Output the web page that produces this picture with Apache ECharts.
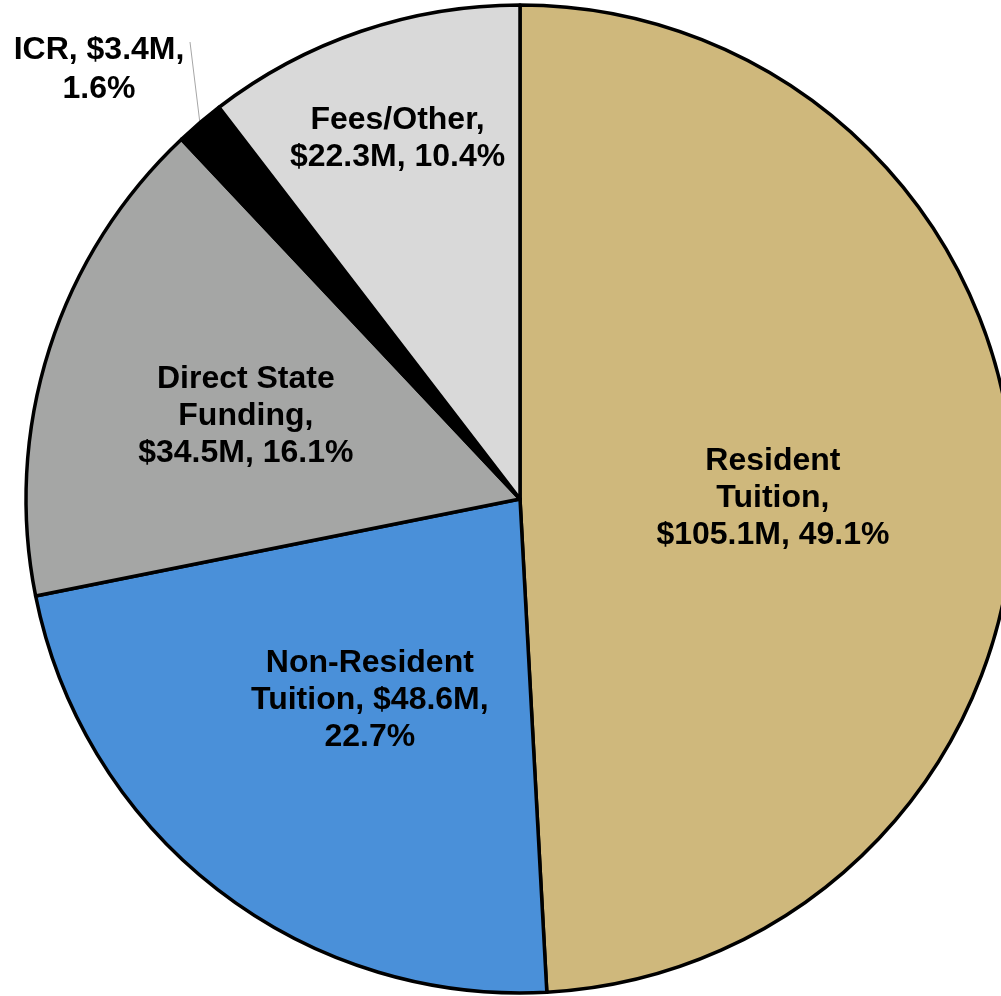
<!DOCTYPE html>
<html>
<head>
<meta charset="utf-8">
<script src="https://cdn.jsdelivr.net/npm/echarts@6/dist/echarts.min.js"></script>
<style>
html,body{margin:0;padding:0;background:#fff;}
#chart{width:1001px;height:996px;}
</style>
</head>
<body>
<div id="chart"></div>
<script>
const categories = ['Resident Tuition', 'Non-Resident Tuition', 'Direct State Funding', 'ICR', 'Fees/Other'];
const values = [105.1, 48.6, 34.5, 3.4, 22.3];
const percents = ['49.1%', '22.7%', '16.1%', '1.6%', '10.4%'];
const labelTexts = [
  'Resident\nTuition,\n$105.1M, 49.1%',
  'Non-Resident\nTuition, $48.6M,\n22.7%',
  'Direct State\nFunding,\n$34.5M, 16.1%',
  'ICR, $3.4M,\n1.6%',
  'Fees/Other,\n$22.3M, 10.4%'
];
const colors = ['#CFB87C', '#4A90D9', '#A5A6A5', '#000000', '#D9D9D9'];

const chart = echarts.init(document.getElementById('chart'), null, {renderer: 'canvas'});
const data = values.map((v, i) => ({
  name: categories[i],
  value: v,
  itemStyle: {color: colors[i]},
  label: i === 3 ? {position: 'outside', lineHeight: 39} : {position: 'inside'},
  labelLine: i === 3 ? {show: true, length: 10, length2: 10, lineStyle: {color: '#A6A6A6', width: 1}} : {show: false}
}));
const shifts = {0: [3, 6], 1: [3, 4], 2: [-36, -7], 4: [-42, -124]};
chart.setOption({
  animation: false,
  series: [{
    type: 'pie',
    center: [520, 499],
    radius: [0, 494],
    startAngle: 90,
    clockwise: true,
    avoidLabelOverlap: false,
    data: data,
    itemStyle: {borderColor: '#000', borderWidth: 3.5},
    emphasis: {disabled: true},
    label: {
      show: true,
      formatter: p => labelTexts[p.dataIndex],
      fontFamily: 'Liberation Sans, Arial, sans-serif',
      fontWeight: 'bold',
      fontSize: 32,
      lineHeight: 37,
      color: '#000',
      align: 'center'
    },
    labelLayout: function (params) {
      const i = params.dataIndex;
      if (i === 3) {
        const p0 = params.labelLinePoints ? params.labelLinePoints[0] : null;
        const res = {x: 99, y: 70, align: 'center', verticalAlign: 'middle'};
        if (p0) res.labelLinePoints = [p0, [190, 42]];
        return res;
      }
      const s = shifts[i] || [0, 0];
      return {dx: s[0], dy: s[1]};
    }
  }]
});
</script>
</body>
</html>
